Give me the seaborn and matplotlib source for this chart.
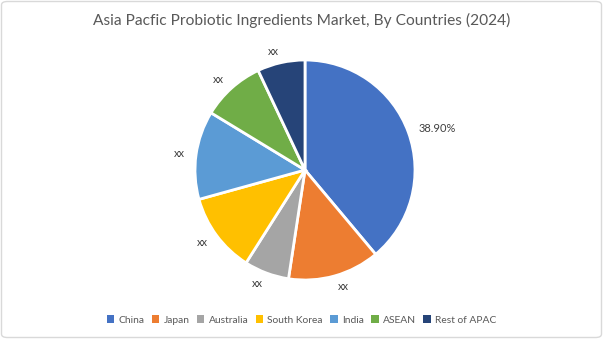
import matplotlib
matplotlib.use("Agg")
import matplotlib.pyplot as plt
import seaborn as sns
from matplotlib.patches import FancyBboxPatch, Patch

countries = ["China", "Japan", "Australia", "South Korea", "India", "ASEAN", "Rest of APAC"]
shares = [38.9, 13.5, 6.6, 11.7, 13.0, 9.3, 7.0]
labels = ["38.90%", "xx", "xx", "xx", "xx", "xx", "xx"]
colors = ["#4472C4", "#ED7D31", "#A5A5A5", "#FFC000", "#5B9BD5", "#70AD47", "#264478"]
title = "Asia Pacfic Probiotic Ingredients Market, By Countries (2024)"

sns.set_theme(style="white")
plt.rcParams["font.family"] = ["Lato", "DejaVu Sans"]

W, H = 603, 339
fig = plt.figure(figsize=(W / 100, H / 100), dpi=100)
fig.patch.set_facecolor("white")

cx, cy, r = 305, 170, 110
ax = fig.add_axes([(cx - r) / W, 1 - (cy + r) / H, 2 * r / W, 2 * r / H])
wedges, texts = ax.pie(
    shares, labels=labels, colors=colors, startangle=90, counterclock=False,
    labeldistance=1.1, wedgeprops=dict(edgecolor="white", linewidth=2),
    textprops=dict(fontsize=8, color="#404040"),
)
ax.set_xlim(-1, 1)
ax.set_ylim(-1, 1)
ax.set_aspect("equal")
ax.axis("off")

fig.text(0.5, 1 - 20 / H, title, ha="center", va="center", fontsize=11.2, color="#595959")

handles = [Patch(facecolor=c, edgecolor="none") for c in colors]
fig.legend(handles, countries, loc="center", bbox_to_anchor=(0.5, 1 - 320 / H), ncol=7,
           frameon=False, fontsize=7.4, handlelength=0.75, handleheight=0.75,
           handletextpad=0.4, columnspacing=0.7, labelcolor="#595959")

border = FancyBboxPatch((1.5 / W, 1.5 / H), 1 - 3 / W, 1 - 3 / H, transform=fig.transFigure,
                        boxstyle="round,pad=0,rounding_size=0.01", facecolor="none",
                        edgecolor="#D9D9D9", linewidth=1)
fig.patches.append(border)

fig.savefig("out.png", dpi=100)
